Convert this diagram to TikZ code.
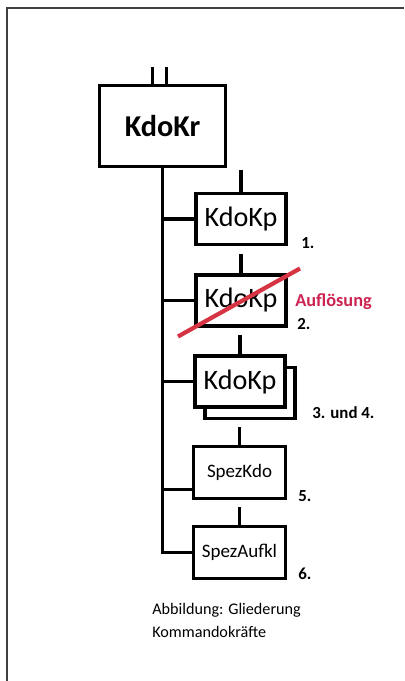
\documentclass[tikz,border=0pt]{standalone}
\usepackage{fontspec}
\setmainfont{Carlito}
\usetikzlibrary{positioning}
\definecolor{strike}{RGB}{214,52,66}
\definecolor{auflred}{RGB}{205,35,80}

\begin{document}
\begin{tikzpicture}[
  x=0.025cm, y=-0.025cm,
  box/.style={draw, fill=white, line width=2.3pt, align=center, inner sep=1pt},
  kr/.style={box, minimum width=3.15cm, minimum height=2.02cm,
             font=\bfseries\fontsize{21.5}{24}\selectfont},
  kp/.style={box, minimum width=2.25cm, minimum height=1.28cm,
             font=\fontsize{20}{22}\selectfont},
  spez/.style={box, minimum width=2.3cm, minimum height=1.3cm,
               font=\fontsize{13.5}{15}\selectfont},
  num/.style={anchor=west, inner sep=0pt, font=\bfseries\fontsize{12}{14}\selectfont},
  link/.style={line width=2.2pt}
]
\useasboundingbox (0,0) rectangle (404,681);
\draw[black!75, line width=1.2pt] (7,681) -- (7,8) -- (404,8);

\node[kr] (kdokr) at (162.5,126) {KdoKr};
\node[kp] (kp1) at (241,219) {KdoKp};
\node[kp] (kp2) at (241,300.5) {KdoKp};
\node[kp] (kp3b) at (250,393) {};
\node[kp] (kp3) at (240,381.5) {KdoKp};
\node[spez] (spezkdo) at (239.5,472.5) {SpezKdo};
\node[spez] (spezaufkl) at (239.5,552.5) {SpezAufkl};

\draw[link] (kdokr.north) ++(-10,0) -- ++(0,-17);
\draw[link] (kdokr.north) ++(4,0) -- ++(0,-17);
\draw[link] (kdokr.south) -- (kdokr.south |- spezaufkl.west) -- (spezaufkl.west);
\draw[link] (kdokr.south |- kp1.west) -- (kp1.west);
\draw[link] (kdokr.south |- kp2.west) -- (kp2.west);
\draw[link] (kdokr.south |- kp3.west) -- (kp3.west);
\draw[link] (spezkdo.200) -- (spezkdo.200 -| kdokr.south);
\draw[link] (kp1.north) -- ++(0,-22);
\draw[link] (kp2.north) -- ++(0,-19);
\draw[link] (kp3.north) -- ++(0,-19);
\draw[link] (spezkdo.north) -- ++(0,-18);
\draw[link] (spezaufkl.north) -- ++(0,-18);

\draw[strike, line width=3pt] ([shift={(-63,36)}]kp2.center) -- ([shift={(59,-32)}]kp2.center);

\node[num] (n1) at (301,243) {1.};
\node[num, text=auflred, font=\bfseries\fontsize{13}{15}\selectfont] (aufl) at (295,302) {Auflösung};
\node[num] (n2) at (297,324) {2.};
\node[num] (n3) at (312,413) {3. und 4.};
\node[num] (n5) at (298,496) {5.};
\node[num] (n6) at (298,574) {6.};

\node[anchor=base west, align=left, inner sep=0pt,
      font=\fontsize{11.5}{16.3}\selectfont] (caption) at (152,637)
  {Abbildung: Gliederung\\Kommandokräfte};
\end{tikzpicture}
\end{document}
